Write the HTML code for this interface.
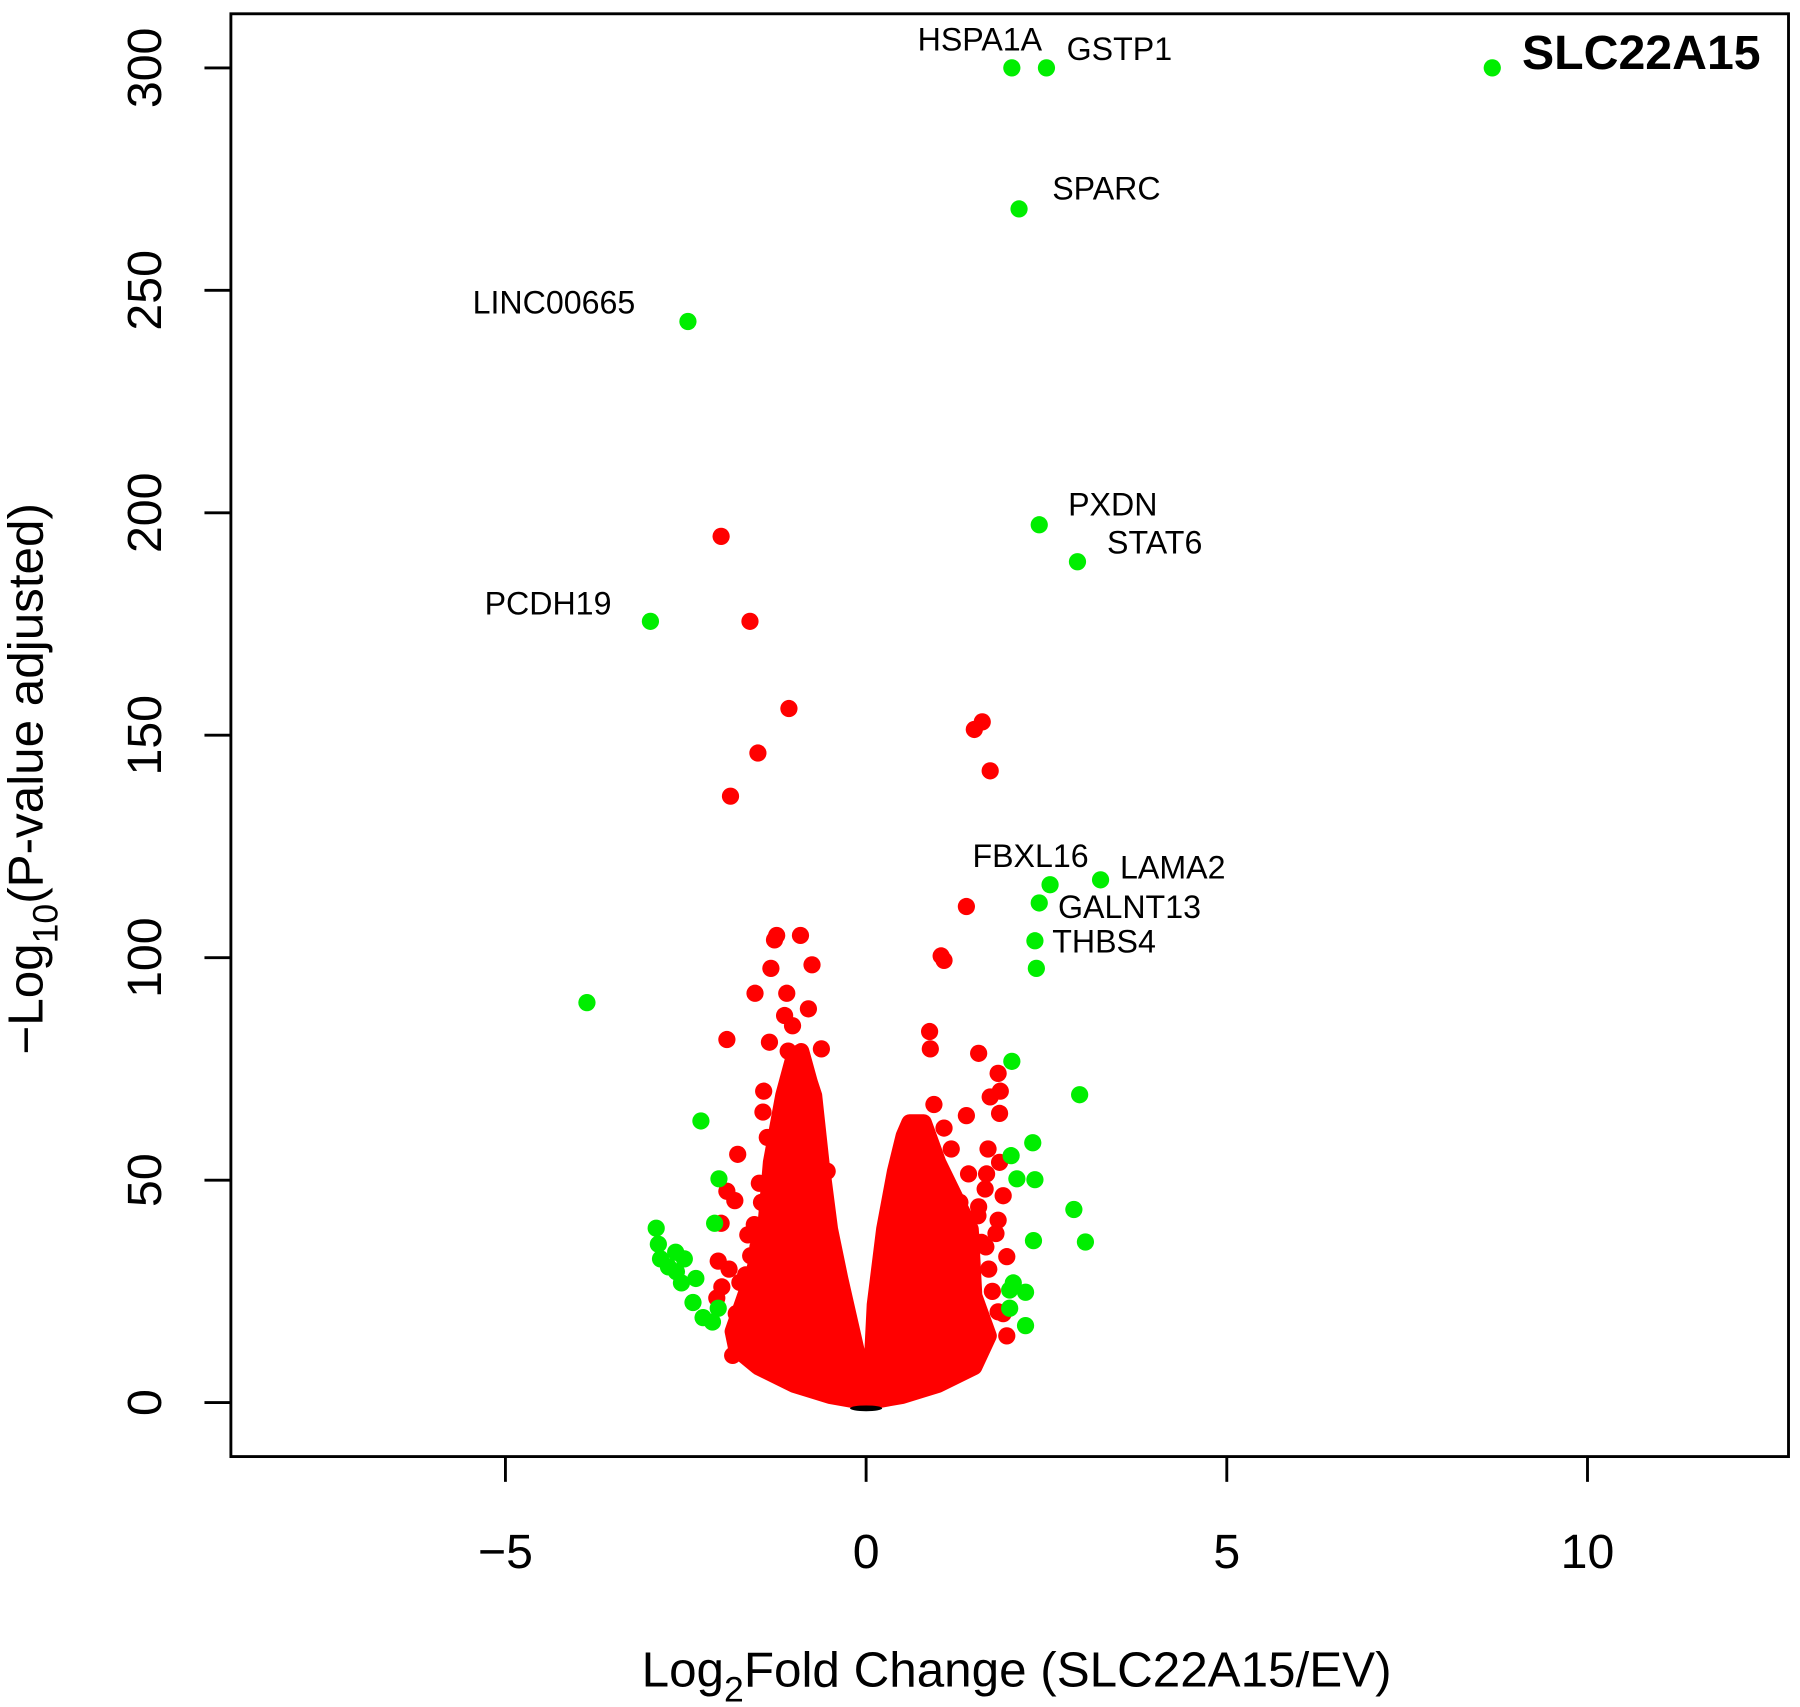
<!DOCTYPE html>
<html><head><meta charset="utf-8"><style>
html,body{margin:0;padding:0;background:#fff;}
svg{display:block;font-family:"Liberation Sans",Arial,sans-serif;}
</style></head><body>
<svg id="chart" width="1800" height="1707" viewBox="0 0 1567 1486" preserveAspectRatio="none" xmlns="http://www.w3.org/2000/svg">
<rect x="201" y="12" width="1356" height="1256" fill="none" stroke="#000" stroke-width="2.5"/>
<g id="marks"></g>
<g id="axes"></g>
<text x="885" y="1468" text-anchor="middle" font-size="43">Log<tspan font-size="31" dy="13">2</tspan><tspan dy="-13">Fold Change (SLC22A15/EV)</tspan></text>
<text transform="translate(37,678) rotate(-90)" text-anchor="middle" font-size="43">−Log<tspan font-size="31" dy="13">10</tspan><tspan dy="-13">(P-value adjusted)</tspan></text>
</svg>
<script>
const xTicks=[-5,0,5,10];
const yTicks=[0,50,100,150,200,250,300];
const leftEnvFc=[-0.05,-0.5,-1.0,-1.5,-1.8,-1.85,-1.55,-1.4,-1.32,-1.15,-1.0,-0.9,-0.78,-0.72,-0.62,-0.5,-0.36,-0.22,-0.08,-0.05];
const leftEnvP=[0.2,1.5,4,8,12,16,30,39,54,69,78,79,72,69,54,39,28,18,8,4];
const rightEnvFc=[0.05,0.5,1.0,1.5,1.7,1.5,1.45,1.0,0.8,0.6,0.52,0.4,0.25,0.12,0.07];
const rightEnvP=[0.2,1.5,4,8,15,24,39,54,63,63,60,52,39,22,6];
const redFc=[-2.01,-1.61,-1.07,-1.50,-1.88,1.61,1.50,1.72,1.39,1.04,1.08,-1.24,-1.27,-0.91,-0.75,-1.32,-1.54,-1.10,-1.13,-0.80,-1.34,-1.02,-1.08,-0.62,-1.93,0.88,0.89,1.56,1.83,1.86,1.72,1.85,1.39,0.94,-1.42,-1.43,-1.08,-1.13,-1.37,-1.78,-1.93,-1.82,-1.48,-2.01,-2.05,-2.07,-1.85,1.69,1.42,1.67,1.85,1.90,1.83,1.95,1.83,1.95,0.78,1.08,1.18,0.67,1.04,1.56,1.45,1.66,-0.54,-0.91,-1.64,-1.50,-1.67,-1.9,-1.75,-1.6,-1.55,-1.45,-1.65,-1.8,-2.0,1.75,1.7,1.6,1.55,1.8,1.65,1.3,1.9];
const redP=[194.7,175.6,156,146,136.3,153,151.3,142,111.5,100.4,99.4,105,104,105,98.4,97.6,92,92,87,88.5,81,84.7,79,79.5,81.6,83.4,79.5,78.5,74,70,68.7,65,64.5,67,70,65.3,72.5,66,59.6,55.8,47.5,45.4,49.3,40.3,31.8,23.5,10.6,57,51.4,51.4,54,46.5,41,32.8,20.4,15,59.6,61.7,57,53.7,50.6,44,37.7,35,52,44,37.7,35,28.7,30,27,33,40,45,22,20,26,25,30,36,42,38,48,45,20];
const greenFc=[2.02,2.50,8.68,2.12,-2.47,2.40,2.93,-2.99,3.25,2.55,2.40,2.34,2.36,-3.87,2.02,2.96,-2.29,2.31,2.01,2.09,2.34,-2.04,2.88,3.04,2.32,-2.10,-2.91,-2.88,-2.64,-2.52,-2.85,-2.74,-2.63,-2.36,-2.56,2.04,2.21,1.99,-2.40,-2.05,-2.26,-2.13,1.99,2.21];
const greenP=[300,300,300,268.3,243,197.3,189,175.6,117.5,116.4,112.3,103.8,97.6,89.9,76.7,69.2,63.3,58.4,55.5,50.3,50.1,50.3,43.4,36.1,36.4,40.3,39.2,35.6,33.8,32.3,32.3,30.5,29.4,27.9,26.9,26.9,24.8,25.3,22.5,21.2,19.1,18.1,21.2,17.3];
const labelText=["HSPA1A","GSTP1","SLC22A15","SPARC","LINC00665","PXDN","STAT6","PCDH19","FBXL16","LAMA2","GALNT13","THBS4"];
const labelFc=[2.44,2.78,9.1,2.58,-3.2,2.8,3.34,-3.53,2.28,3.52,2.66,2.58];
const labelP=[300,300,300,268.3,243,197.3,189,175.6,117.5,117.5,112.3,103.8];
const labelAnchor=["end","start","start","start","end","start","start","end","middle","start","start","start"];
const labelDy=[-15,-7,1,-8,-7,-8,-7,-6,-11,-1,13,10];

const sx=v=>754+v*62.8;
const sy=v=>1221-v*3.873;
const NS="http://www.w3.org/2000/svg";
const marks=document.getElementById('marks');
const axes=document.getElementById('axes');

function envelope(fc,p,name){
  let d=fc.map((f,i)=>(i?'L':'M')+sx(f).toFixed(1)+' '+sy(p[i]).toFixed(1)).join(' ')+'Z';
  const el=document.createElementNS(NS,'path');
  el.setAttribute('d',d);el.setAttribute('fill','#ff0000');el.setAttribute('stroke','#ff0000');
  el.setAttribute('stroke-width','14');el.setAttribute('stroke-linejoin','round');
  
  
  marks.appendChild(el);
}
envelope(leftEnvFc,leftEnvP,'dense-points-negative');
envelope(rightEnvFc,rightEnvP,'dense-points-positive');
const blk=document.createElementNS(NS,'ellipse');
blk.setAttribute('cx',sx(0));blk.setAttribute('cy',sy(0)+5);blk.setAttribute('rx','14');blk.setAttribute('ry','2.5');blk.setAttribute('fill','#000');


marks.appendChild(blk);

function dots(fc,p,col,name){
  fc.forEach((f,i)=>{
    const c=document.createElementNS(NS,'circle');
    c.setAttribute('cx',sx(f));c.setAttribute('cy',sy(p[i]));c.setAttribute('r','7.5');c.setAttribute('fill',col);
    
    
    marks.appendChild(c);
  });
}
dots(redFc,redP,'#ff0000','significant-point');
dots(greenFc,greenP,'#00ee00','highlighted-gene-point');

labelText.forEach((t,i)=>{
  const el=document.createElementNS(NS,'text');
  el.setAttribute('x',sx(labelFc[i]));el.setAttribute('y',sy(labelP[i])+labelDy[i]);
  el.setAttribute('text-anchor',labelAnchor[i]);
  const big=t==='SLC22A15';
  el.setAttribute('font-size',big?'42':'28');
  if(big){el.setAttribute('font-weight','bold');el.setAttribute('x',1325);}
  el.textContent=t;
  
  
  marks.appendChild(el);
});

function line(x1,y1,x2,y2,name){
  const l=document.createElementNS(NS,'line');
  l.setAttribute('x1',x1);l.setAttribute('y1',y1);l.setAttribute('x2',x2);l.setAttribute('y2',y2);
  l.setAttribute('stroke','#000');l.setAttribute('stroke-width','2.5');
  
  
  axes.appendChild(l);
}
xTicks.forEach(v=>{
  line(sx(v),1268,sx(v),1290,'x-tick');
  const t=document.createElementNS(NS,'text');
  t.setAttribute('x',sx(v));t.setAttribute('y',1365);t.setAttribute('text-anchor','middle');t.setAttribute('font-size','42');
  t.textContent=v<0?'−'+Math.abs(v):String(v);
  
  
  axes.appendChild(t);
});
yTicks.forEach(v=>{
  line(178,sy(v),201,sy(v),'y-tick');
  const t=document.createElementNS(NS,'text');
  t.setAttribute('transform','translate(140,'+sy(v)+') rotate(-90)');t.setAttribute('text-anchor','middle');t.setAttribute('font-size','42');
  t.textContent=String(v);
  
  
  axes.appendChild(t);
});
</script>
</body></html>
